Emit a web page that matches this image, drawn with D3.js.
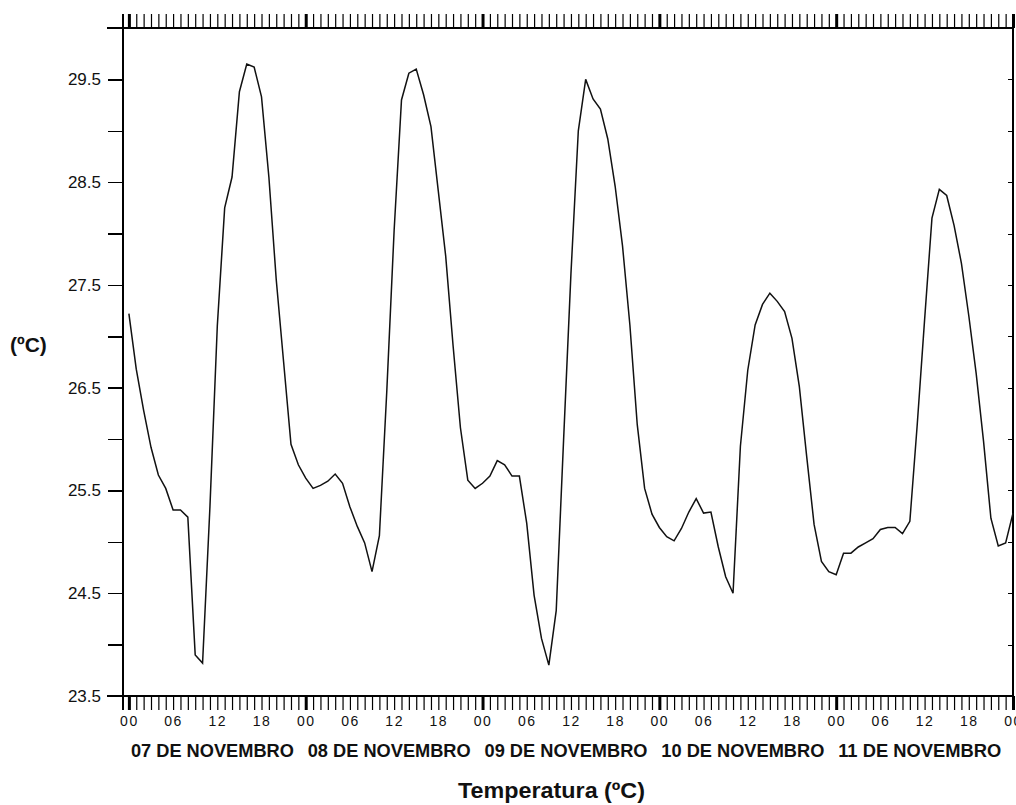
<!DOCTYPE html>
<html>
<head>
<meta charset="utf-8">
<script src="https://cdn.jsdelivr.net/npm/d3@7"></script>
<style>
  html, body { margin: 0; padding: 0; background: #fff; }
  svg { display: block; }
  text { font-family: "Liberation Sans", Arial, sans-serif; fill: #111; }
</style>
</head>
<body>
<div id="chart"></div>
<script>
// ---- data ----
const dayLabels = ["07 DE NOVEMBRO", "08 DE NOVEMBRO", "09 DE NOVEMBRO", "10 DE NOVEMBRO", "11 DE NOVEMBRO"];
const hourLabels = ["00", "06", "12", "18"];
const yTickLabels = ["23.5", "24.5", "25.5", "26.5", "27.5", "28.5", "29.5"];
// hourly temperature (ºC), hour 0 = 07/11 00h ... hour 120 = 12/11 00h
const temps = [
  27.22, 26.68, 26.28, 25.92, 25.65, 25.52, 25.31, 25.31, 25.24, 23.90, 23.82, 25.34,
  27.10, 28.25, 28.55, 29.38, 29.65, 29.62, 29.33, 28.55, 27.55, 26.75, 25.95, 25.75,
  25.62, 25.52, 25.55, 25.59, 25.66, 25.57, 25.34, 25.15, 24.99, 24.71, 25.06, 26.46,
  28.03, 29.30, 29.56, 29.60, 29.35, 29.04, 28.41, 27.78, 26.91, 26.11, 25.60, 25.52,
  25.57, 25.64, 25.79, 25.75, 25.64, 25.64, 25.18, 24.48, 24.06, 23.80, 24.33, 25.99,
  27.61, 29.00, 29.50, 29.31, 29.21, 28.92, 28.46, 27.88, 27.11, 26.14, 25.52, 25.27,
  25.14, 25.05, 25.01, 25.13, 25.29, 25.42, 25.28, 25.29, 24.95, 24.66, 24.50, 25.93,
  26.67, 27.11, 27.31, 27.42, 27.34, 27.24, 26.98, 26.51, 25.83, 25.17, 24.81, 24.71,
  24.68, 24.89, 24.89, 24.95, 24.99, 25.03, 25.12, 25.14, 25.14, 25.08, 25.20, 26.14,
  27.16, 28.15, 28.43, 28.37, 28.08, 27.71, 27.20, 26.64, 25.98, 25.23, 24.96, 24.99,
  25.28
];
const yTicks = [23.5, 24, 24.5, 25, 25.5, 26, 26.5, 27, 27.5, 28, 28.5, 29, 29.5];
const hourTicks = d3.range(0, 121);

// ---- layout ----
const W = 1016, H = 805;
const L = 123, R = 1013, T = 28, B = 696;

const svg = d3.select("#chart").append("svg").attr("width", W).attr("height", H);
svg.append("rect").attr("width", W).attr("height", H).attr("fill", "#fff");

const x = d3.scaleLinear().domain([-0.8, 120]).range([L, R]);
const y = d3.scaleLinear().domain([23.5, 30]).range([B, T]);

// frame lines
const frame = svg.append("g").attr("stroke", "#000").attr("stroke-width", 1.4).attr("shape-rendering", "crispEdges");
frame.append("line").attr("x1", 107).attr("x2", R).attr("y1", T).attr("y2", T);
frame.append("line").attr("x1", 107).attr("x2", R).attr("y1", B).attr("y2", B);
frame.append("line").attr("x1", L).attr("x2", L).attr("y1", 14).attr("y2", 710);
frame.append("line").attr("x1", R).attr("x2", R).attr("y1", T).attr("y2", B);

// left axis
const yAxis = d3.axisLeft(y).tickValues(yTicks).tickSize(15).tickPadding(7)
  .tickFormat(d => yTickLabels.includes(d.toFixed(1)) ? d.toFixed(1) : "");
const gy = svg.append("g").attr("transform", `translate(${L},0)`).call(yAxis);
gy.select(".domain").remove();
gy.selectAll(".tick line").attr("stroke", "#000").attr("stroke-width", 1.4).attr("shape-rendering", "crispEdges");
gy.selectAll(".tick text").style("font-size", "17px").style("font-family", "Liberation Sans, Arial, sans-serif").attr("fill", "#111");

// right axis (inward ticks)
const yAxisR = d3.axisLeft(y).tickValues(yTicks).tickSize(5).tickFormat("");
const gyr = svg.append("g").attr("transform", `translate(${R},0)`).call(yAxisR);
gyr.select(".domain").remove();
gyr.selectAll(".tick line").attr("stroke", "#000").attr("shape-rendering", "crispEdges");

// bottom axis (hourly ticks)
const xAxisB = d3.axisBottom(x).tickValues(hourTicks).tickSize(14).tickPadding(6)
  .tickFormat(d => d % 6 === 0 ? hourLabels[(d % 24) / 6] : "");
const gxb = svg.append("g").attr("transform", `translate(0,${B})`).call(xAxisB);
gxb.select(".domain").remove();
gxb.selectAll(".tick line").attr("stroke", "#000")
  .attr("stroke-width", d => d % 24 === 0 ? 3 : 1.2);
gxb.selectAll(".tick text").style("font-size", "14px").style("letter-spacing", "1.5px")
  .style("font-family", "Liberation Sans, Arial, sans-serif").attr("fill", "#111");

// top axis
const xAxisT = d3.axisTop(x).tickValues(hourTicks).tickSize(14).tickFormat("");
const gxt = svg.append("g").attr("transform", `translate(0,${T})`).call(xAxisT);
gxt.select(".domain").remove();
gxt.selectAll(".tick line").attr("stroke", "#000")
  .attr("stroke-width", d => d % 24 === 0 ? 3 : 1.2);

// day labels
svg.append("g").selectAll("text").data(dayLabels).join("text")
  .attr("x", (d, i) => x(i * 24) + 2)
  .attr("y", 757)
  .attr("text-anchor", "start")
  .attr("textLength", 163)
  .attr("lengthAdjust", "spacingAndGlyphs")
  .style("font-size", "17.5px").style("font-weight", "bold")
  .text(d => d);

// temperature line
const line = d3.line().x((d, i) => x(i)).y(d => y(d));
svg.append("path").datum(temps)
  .attr("d", line)
  .attr("fill", "none")
  .attr("stroke", "#111")
  .attr("stroke-width", 1.5);

// y label
svg.append("text").attr("x", 10).attr("y", 352)
  .style("font-size", "21px").style("font-weight", "bold").text("(ºC)");

// title
svg.append("text").attr("x", 458).attr("y", 798).attr("text-anchor", "start")
  .attr("textLength", 187).attr("lengthAdjust", "spacingAndGlyphs")
  .style("font-size", "22px").style("font-weight", "bold").text("Temperatura (ºC)");
</script>
</body>
</html>
